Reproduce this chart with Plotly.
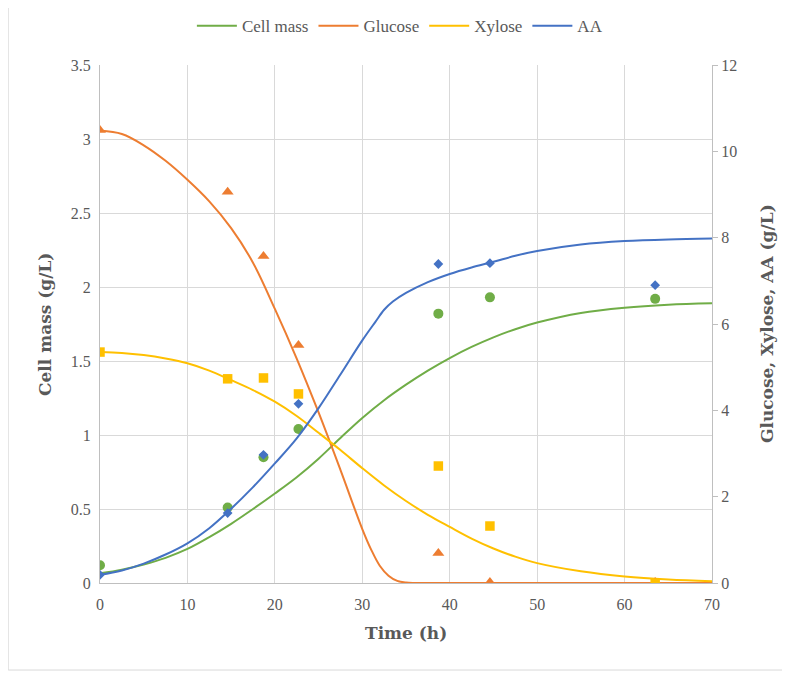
import plotly.graph_objects as go

# Measured data
t_obs = [0, 14.6, 18.7, 22.7, 38.7, 44.6, 63.5]
cell_obs = [0.12, 0.51, 0.85, 1.04, 1.82, 1.93, 1.92]
glucose_obs = [10.49, 9.06, 7.57, 5.51, 0.69, 0.02, 0.02]
xylose_obs = [5.35, 4.73, 4.75, 4.38, 2.71, 1.32, 0.0]
aa_obs = [0.19, 1.62, 2.97, 4.15, 7.39, 7.41, 6.90]

# Model curves
t_fit = [0, 2.5, 5, 7.5, 10, 12.5, 15, 17.5, 20, 22.5, 25, 27.5, 30, 32.5,
         35, 37.5, 40, 42.5, 45, 47.5, 50, 55, 60, 65, 70]
cell_fit = [0.065, 0.09, 0.125, 0.17, 0.23, 0.31, 0.40, 0.50, 0.605, 0.715, 0.84, 0.98,
            1.115, 1.235, 1.34, 1.435, 1.52, 1.595, 1.66, 1.715, 1.76, 1.825, 1.86, 1.88, 1.89]
xylose_fit = [5.35, 5.33, 5.28, 5.20, 5.09, 4.92, 4.70, 4.47, 4.20, 3.87, 3.48, 3.08,
              2.66, 2.26, 1.90, 1.58, 1.30, 1.03, 0.80, 0.61, 0.46, 0.27, 0.15, 0.08, 0.04]
t_aa = [0, 2.5, 5, 7.5, 10, 12.5, 15, 17.5, 20, 22.5, 25, 27.5, 30, 31.5, 32.5, 33.5,
        35, 37.5, 40, 42.5, 45, 47.5, 50, 55, 60, 65, 70]
aa_fit = [0.19, 0.29, 0.45, 0.66, 0.92, 1.27, 1.72, 2.22, 2.77, 3.35, 4.05, 4.83,
          5.62, 6.05, 6.33, 6.52, 6.72, 6.97, 7.16, 7.31, 7.44, 7.58, 7.69, 7.84, 7.92, 7.96, 7.98]
t_glu = [0, 2.5, 5, 7.5, 10, 12.5, 15, 17.5, 20, 22.5, 25, 27.5, 30, 31, 32, 33, 34,
         35, 36, 40, 50, 60, 70]
glucose_fit = [10.48, 10.40, 10.14, 9.78, 9.34, 8.84, 8.22, 7.42, 6.35, 5.20, 3.95, 2.62,
               1.25, 0.78, 0.40, 0.17, 0.05, 0.01, 0.0, 0.0, 0.0, 0.0, 0.0]

GREEN = "#70AD47"
ORANGE = "#ED7D31"
YELLOW = "#FFC000"
BLUE = "#4472C4"
SERIF = "Liberation Serif"
BOLDSERIF = "DejaVu Serif"
TXT = "#595959"

fig = go.Figure()

fig.add_trace(go.Scatter(x=t_fit, y=cell_fit, mode="lines", name="Cell mass",
                         line=dict(color=GREEN, width=2, shape="spline"), yaxis="y"))
fig.add_trace(go.Scatter(x=t_glu, y=glucose_fit, mode="lines", name="Glucose",
                         line=dict(color=ORANGE, width=2, shape="spline", smoothing=1), yaxis="y2"))
fig.add_trace(go.Scatter(x=t_fit, y=xylose_fit, mode="lines", name="Xylose",
                         line=dict(color=YELLOW, width=2, shape="spline"), yaxis="y2"))
fig.add_trace(go.Scatter(x=t_aa, y=aa_fit, mode="lines", name="AA",
                         line=dict(color=BLUE, width=2, shape="spline"), yaxis="y2"))

fig.add_trace(go.Scatter(x=t_obs, y=cell_obs, mode="markers", showlegend=False,
                         marker=dict(color=GREEN, size=10, symbol="circle"), yaxis="y"))
fig.add_trace(go.Scatter(x=t_obs, y=glucose_obs, mode="markers", showlegend=False,
                         marker=dict(color=ORANGE, size=10.5, symbol="triangle-up"), yaxis="y2"))
fig.add_trace(go.Scatter(x=t_obs, y=xylose_obs, mode="markers", showlegend=False,
                         marker=dict(color=YELLOW, size=9.5, symbol="square"), yaxis="y2"))
fig.add_trace(go.Scatter(x=t_obs, y=aa_obs, mode="markers", showlegend=False,
                         marker=dict(color=BLUE, size=7.5, symbol="diamond"), yaxis="y2"))

title_font = dict(family=BOLDSERIF, size=17, color=TXT)

fig.update_layout(
    width=790, height=675,
    margin=dict(l=92, r=86, t=57, b=100, autoexpand=False),
    paper_bgcolor="white", plot_bgcolor="white",
    font=dict(family=SERIF, size=16, color=TXT),
    showlegend=True,
    legend=dict(orientation="h", x=0.49, xanchor="center", y=1.075, yanchor="middle",
                font=dict(family=SERIF, size=17, color=TXT), itemwidth=40,
                bgcolor="rgba(0,0,0,0)"),
    xaxis=dict(range=[0, 70], dtick=10, tick0=0, showgrid=True, gridcolor="#D9D9D9",
               zeroline=False, showline=True, linecolor="#BFBFBF", linewidth=1,
               ticks="", ticklabelstandoff=7, automargin=False,
               tickfont=dict(family=SERIF, size=16, color=TXT)),
    yaxis=dict(range=[0, 3.5], dtick=0.5, tick0=0, showgrid=True, gridcolor="#D9D9D9",
               zeroline=False, showline=True, linecolor="#BFBFBF", linewidth=1,
               ticks="outside", ticklen=5, tickcolor="rgba(0,0,0,0)", automargin=False,
               tickfont=dict(family=SERIF, size=16, color=TXT)),
    yaxis2=dict(range=[0, 12], dtick=2, tick0=0, overlaying="y", side="right",
                showgrid=False, zeroline=False, showline=True, linecolor="#BFBFBF", linewidth=1,
                ticks="outside", ticklen=5, tickcolor="#BFBFBF", automargin=False,
                tickfont=dict(family=SERIF, size=16, color=TXT)),
    annotations=[
        dict(text="<b>Time (h)</b>", xref="paper", yref="paper", x=0.5, y=-0.0965,
             xanchor="center", yanchor="middle", showarrow=False, font=title_font),
        dict(text="<b>Cell mass (g/L)</b>", xref="paper", yref="paper", x=-0.0899, y=0.5,
             xanchor="center", yanchor="middle", showarrow=False, textangle=-90, font=title_font),
        dict(text="<b>Glucose, Xylose, AA (g/L)</b>", xref="paper", yref="paper", x=1.09, y=0.5,
             xanchor="center", yanchor="middle", showarrow=False, textangle=-90, font=title_font),
    ],
    shapes=[dict(type="rect", xref="paper", yref="paper", x0=-0.150, x1=1.2, y0=-0.168, y1=1.3,
                 line=dict(color="#D9D9D9", width=1), layer="below")],
)

fig.write_html("out.html")
